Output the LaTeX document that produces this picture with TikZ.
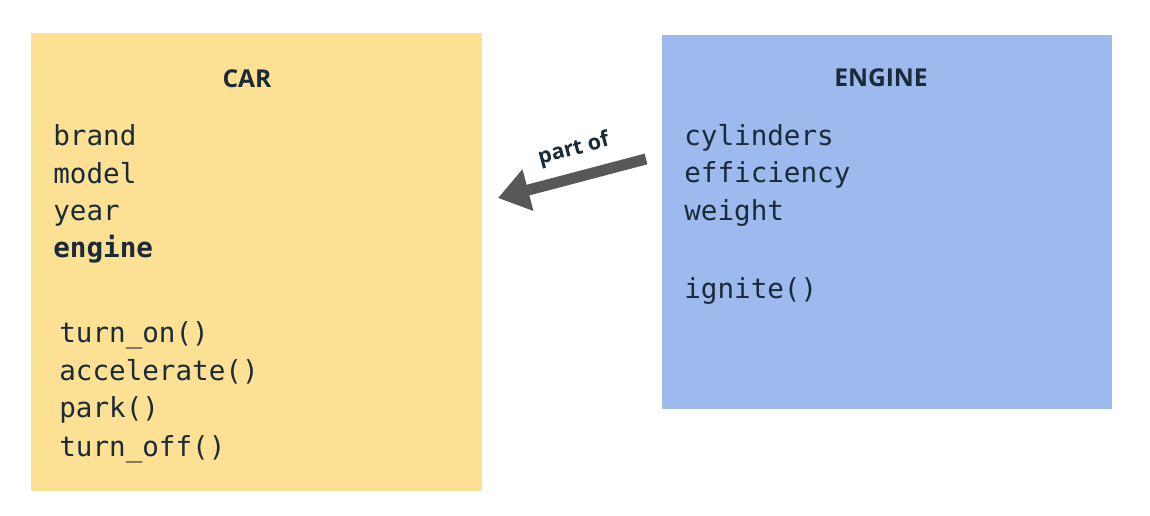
\documentclass[tikz,border=0pt]{standalone}
\usepackage{fontspec}
\setmainfont{Open Sans}
\setmonofont{DejaVu Sans Mono}
\usetikzlibrary{arrows.meta}
\definecolor{carYellow}{HTML}{FCE093}
\definecolor{engBlue}{HTML}{9CBAEE}
\definecolor{inkNavy}{HTML}{1B2A38}
\definecolor{arrowGray}{HTML}{585858}
\tikzset{
    member/.style={anchor=base west,inner sep=0pt,text=inkNavy,font=\ttfamily\fontsize{15.7}{18}\selectfont},
    boxtitle/.style={anchor=base,inner sep=0pt,text=inkNavy,font=\bfseries\fontsize{14}{16}\selectfont}
}
\begin{document}
\begin{tikzpicture}[x=0.02cm,y=-0.02cm]

\useasboundingbox (0,0) rectangle (1150,516);

\coordinate (cCarNW) at (31,33);
\coordinate (cCarSE) at (482,491);
\coordinate (cEngNW) at (662,35);
\coordinate (cEngSE) at (1112,409);
\coordinate (cArrowFrom) at (646,159);
\coordinate (cArrowTo) at (498,198);

\fill[carYellow] (cCarNW) rectangle (cCarSE);
\fill[engBlue] (cEngNW) rectangle (cEngSE);

\node[boxtitle] (nCarTitle) at (247,88) {CAR};
\node[boxtitle] (nEngTitle) at (881,87) {ENGINE};

\foreach \n/\x/\y/\t in
{   brand/53/146/brand,
    model/53/184/model,
    year/53/221/year,
    engine/53/258/\textbf{engine},
    turnon/59/343/turn\_on(),
    accel/59/381/accelerate(),
    park/59/418/park(),
    turnoff/59/457/turn\_off(),
    cyl/684/146/cylinders,
    eff/684/183/efficiency,
    weight/684/221/weight,
    ignite/684/299/ignite()
}
{
    \node[member] (n\n) at (\x,\y) {\t};
};

\draw[arrowGray,line width=0.22cm,-{Triangle[length=0.62cm,width=0.82cm]}]
    (cArrowFrom) -- (cArrowTo)
    node[pos=0.44,above=3pt,sloped,text=inkNavy,font=\bfseries\fontsize{12.2}{14}\selectfont] (nPartOf) {part of};

\end{tikzpicture}
\end{document}
